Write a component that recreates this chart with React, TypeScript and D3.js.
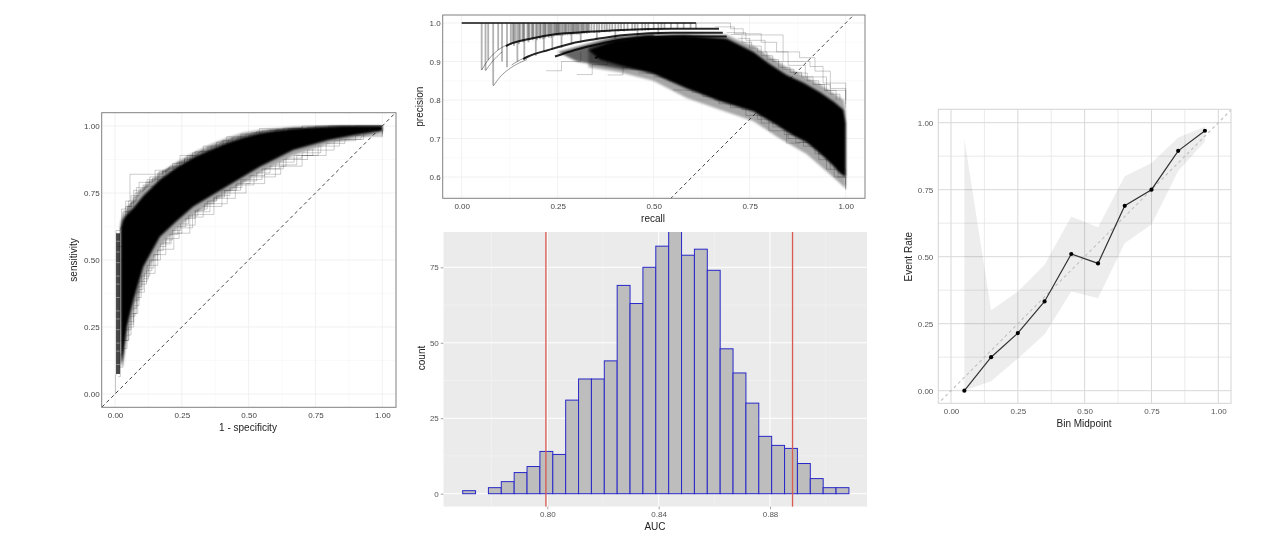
import React, { useEffect, useRef } from "react"
import * as d3 from "d3"

type Pt = [number, number]

// ---- ROC panel ----
const rocTicks = [0, 0.25, 0.5, 0.75, 1]
const rocCoreUpper: Pt[] = [[0.022, 0.25], [0.022, 0.62], [0.03, 0.65], [0.044, 0.67], [0.069, 0.695], [0.106, 0.74], [0.168, 0.8], [0.23, 0.845], [0.293, 0.882], [0.355, 0.91], [0.418, 0.937], [0.48, 0.957], [0.542, 0.973], [0.6, 0.982], [0.667, 0.99], [0.75, 0.995], [0.85, 1], [1, 1]]
const rocCoreLower: Pt[] = [[1, 0.982], [0.9, 0.966], [0.8, 0.948], [0.667, 0.91], [0.542, 0.848], [0.418, 0.774], [0.293, 0.7], [0.23, 0.645], [0.168, 0.587], [0.106, 0.475], [0.069, 0.35], [0.044, 0.25], [0.03, 0.14], [0.022, 0.1]]
const rocHaloUpper: Pt[] = [[0.02, 0.3], [0.02, 0.64], [0.03, 0.67], [0.044, 0.695], [0.069, 0.725], [0.106, 0.77], [0.168, 0.825], [0.23, 0.865], [0.293, 0.9], [0.355, 0.93], [0.418, 0.955], [0.48, 0.975], [0.542, 0.985], [0.667, 0.997], [0.8, 1], [1, 1]]
const rocHaloLower: Pt[] = [[1, 0.975], [0.9, 0.955], [0.8, 0.935], [0.667, 0.89], [0.542, 0.825], [0.418, 0.75], [0.293, 0.67], [0.23, 0.615], [0.168, 0.55], [0.106, 0.43], [0.069, 0.31], [0.044, 0.21], [0.03, 0.1]]
const rocStrip: Pt[] = [[0.004, 0.075], [0.004, 0.6], [0.019, 0.6], [0.019, 0.075]]
const rocLadder = [0.11, 0.16, 0.19, 0.24, 0.28, 0.31, 0.36, 0.41, 0.44, 0.49, 0.53, 0.57]
const rocFringe: Pt[][] = [
  [[0, 0], [0.002, 0.07], [0.004, 0.61], [0.02, 0.62], [0.025, 0.69], [0.04, 0.72], [0.056, 0.82], [0.15, 0.835], [0.2, 0.845], [0.243, 0.89], [0.33, 0.925], [0.418, 0.96], [0.54, 0.99], [0.7, 1], [1, 1]],
  [[0.01, 0.55], [0.03, 0.68], [0.06, 0.74], [0.09, 0.79], [0.13, 0.81], [0.19, 0.84], [0.26, 0.875], [0.3, 0.905], [0.38, 0.94], [0.47, 0.97], [0.6, 0.985], [0.75, 1], [1, 1]],
  [[0.02, 0.6], [0.04, 0.7], [0.07, 0.76], [0.11, 0.775], [0.16, 0.825], [0.22, 0.85], [0.28, 0.885], [0.35, 0.915], [0.44, 0.955], [0.52, 0.975], [0.65, 0.99], [0.8, 1], [1, 1]],
  [[0.03, 0.64], [0.05, 0.72], [0.08, 0.77], [0.12, 0.8], [0.18, 0.83], [0.24, 0.865], [0.31, 0.9], [0.4, 0.945], [0.5, 0.965], [0.58, 0.985], [0.72, 0.995], [0.9, 1], [1, 1]],
  [[0.035, 0.66], [0.047, 0.7], [0.06, 0.715], [0.075, 0.75], [0.095, 0.765], [0.115, 0.79], [0.14, 0.805], [0.165, 0.83], [0.195, 0.84], [0.215, 0.86], [0.25, 0.87], [0.27, 0.89], [0.305, 0.895], [0.325, 0.91], [0.36, 0.925], [0.39, 0.935], [0.425, 0.95], [0.46, 0.96], [0.49, 0.97], [0.53, 0.98], [0.57, 0.985], [0.63, 0.992], [0.7, 0.998]],
  [[0.04, 0.68], [0.055, 0.71], [0.068, 0.735], [0.085, 0.755], [0.105, 0.78], [0.128, 0.795], [0.15, 0.82], [0.178, 0.835], [0.205, 0.85], [0.232, 0.865], [0.26, 0.88], [0.29, 0.9], [0.318, 0.905], [0.345, 0.92], [0.375, 0.93], [0.405, 0.945], [0.435, 0.955], [0.475, 0.965], [0.51, 0.975], [0.55, 0.982], [0.61, 0.99]],
  [[0.012, 0.065], [0.02, 0.15], [0.03, 0.2], [0.05, 0.25], [0.07, 0.3], [0.085, 0.4], [0.1, 0.44], [0.13, 0.5], [0.17, 0.56], [0.21, 0.6], [0.25, 0.63], [0.3, 0.68], [0.355, 0.71], [0.42, 0.75], [0.49, 0.785], [0.56, 0.82], [0.62, 0.85], [0.7, 0.89], [0.79, 0.935], [0.86, 0.95], [0.92, 0.96], [1, 0.985]],
  [[0.015, 0.1], [0.03, 0.24], [0.06, 0.3], [0.08, 0.38], [0.11, 0.45], [0.15, 0.52], [0.19, 0.58], [0.24, 0.62], [0.29, 0.67], [0.37, 0.73], [0.45, 0.78], [0.52, 0.81], [0.6, 0.855], [0.68, 0.89], [0.76, 0.925], [0.84, 0.95], [0.93, 0.97], [1, 0.99]],
  [[0.02, 0.2], [0.04, 0.27], [0.07, 0.35], [0.09, 0.42], [0.12, 0.48], [0.16, 0.54], [0.22, 0.6], [0.28, 0.66], [0.33, 0.7], [0.4, 0.76], [0.47, 0.8], [0.55, 0.84], [0.63, 0.875], [0.72, 0.91], [0.82, 0.945], [0.9, 0.965], [1, 0.985]],
  [[0.03, 0.17], [0.045, 0.22], [0.06, 0.29], [0.075, 0.33], [0.09, 0.39], [0.105, 0.43], [0.125, 0.47], [0.145, 0.52], [0.165, 0.55], [0.19, 0.575], [0.215, 0.61], [0.245, 0.635], [0.275, 0.665], [0.31, 0.69], [0.345, 0.72], [0.38, 0.74], [0.43, 0.77], [0.475, 0.795], [0.53, 0.825], [0.58, 0.85], [0.64, 0.88], [0.7, 0.9], [0.77, 0.925]],
  [[0.035, 0.2], [0.052, 0.26], [0.068, 0.32], [0.082, 0.36], [0.098, 0.41], [0.118, 0.46], [0.138, 0.5], [0.158, 0.535], [0.18, 0.565], [0.205, 0.595], [0.235, 0.625], [0.265, 0.655], [0.3, 0.685], [0.335, 0.71], [0.37, 0.735], [0.41, 0.76], [0.455, 0.785], [0.505, 0.815], [0.56, 0.84], [0.615, 0.865], [0.67, 0.89], [0.74, 0.915]],
]

// ---- Precision-recall panel ----
const prXTicks = [0, 0.25, 0.5, 0.75, 1]
const prYTicks = [0.6, 0.7, 0.8, 0.9, 1]
const prCoreUpper: Pt[] = [[0.33, 0.93], [0.4, 0.955], [0.47, 0.965], [0.58, 0.968], [0.69, 0.96], [0.72, 0.945], [0.76, 0.925], [0.8, 0.895], [0.846, 0.865], [0.89, 0.845], [0.933, 0.82], [0.97, 0.795], [0.994, 0.775], [1, 0.74]]
const prCoreLower: Pt[] = [[1, 0.6], [0.985, 0.61], [0.967, 0.63], [0.935, 0.66], [0.898, 0.69], [0.86, 0.71], [0.82, 0.735], [0.76, 0.77], [0.673, 0.797], [0.586, 0.83], [0.499, 0.868], [0.412, 0.89], [0.36, 0.905]]
const prHaloUpper: Pt[] = [[0.33, 0.94], [0.5, 0.975], [0.6, 0.975], [0.69, 0.97], [0.72, 0.955], [0.76, 0.94], [0.846, 0.885], [0.933, 0.84], [0.995, 0.8], [1, 0.77]]
const prHaloLower: Pt[] = [[1, 0.57], [0.967, 0.6], [0.898, 0.66], [0.82, 0.705], [0.76, 0.745], [0.673, 0.775], [0.586, 0.805], [0.499, 0.85], [0.412, 0.872], [0.33, 0.885]]
const prWedge: Pt[] = [[0.25, 0.925], [0.4, 0.965], [0.5, 0.972], [0.5, 0.88], [0.42, 0.88], [0.36, 0.89], [0.3, 0.9]]
const prSpines: Pt[][] = [
  [[0.115, 0.94], [0.13, 0.947], [0.182, 0.96], [0.243, 0.971], [0.329, 0.977], [0.417, 0.982], [0.55, 0.985], [0.67, 0.985]],
  [[0.16, 0.906], [0.173, 0.913], [0.226, 0.93], [0.286, 0.947], [0.347, 0.958], [0.425, 0.969], [0.55, 0.975], [0.68, 0.975]],
  [[0.243, 0.913], [0.295, 0.93], [0.365, 0.947], [0.425, 0.958], [0.55, 0.965], [0.69, 0.965]],
  [[0.347, 0.909], [0.39, 0.925], [0.425, 0.938], [0.5, 0.95]],
]
const prFaintArcs: Pt[][] = [
  [[0.052, 0.878], [0.069, 0.904], [0.095, 0.93], [0.13, 0.947]],
  [[0.062, 0.876], [0.08, 0.9], [0.105, 0.925]],
  [[0.13, 0.891], [0.15, 0.903], [0.173, 0.913]],
  [[0.082, 0.836], [0.1, 0.86], [0.13, 0.885], [0.17, 0.905]],
]
const prFringe: Pt[][] = [
  [[0.22, 0.876], [0.26, 0.9], [0.31, 0.925]],
  [[0.3, 0.866], [0.34, 0.892], [0.38, 0.915]],
  [[0.38, 0.865], [0.42, 0.885], [0.47, 0.915]],
  [[0.46, 0.87], [0.51, 0.885], [0.57, 0.89]],
  [[0.61, 1], [0.7, 0.985], [0.733, 0.969], [0.837, 0.948], [0.837, 0.9], [0.907, 0.887], [0.941, 0.844], [1, 0.8]],
  [[0.66, 0.99], [0.71, 0.972], [0.78, 0.95], [0.82, 0.925], [0.88, 0.91], [0.92, 0.875], [0.96, 0.83], [1, 0.79]],
  [[0.69, 0.975], [0.74, 0.955], [0.79, 0.925], [0.85, 0.89], [0.895, 0.86], [0.95, 0.825], [1, 0.78]],
  [[0.7, 0.97], [0.73, 0.95], [0.755, 0.94], [0.78, 0.915], [0.81, 0.9], [0.835, 0.88], [0.865, 0.87], [0.9, 0.85], [0.93, 0.84], [0.96, 0.815], [0.985, 0.8]],
  [[0.72, 0.96], [0.75, 0.935], [0.77, 0.925], [0.795, 0.905], [0.825, 0.885], [0.855, 0.872], [0.885, 0.86], [0.915, 0.84], [0.945, 0.825], [0.975, 0.8]],
  [[0.55, 0.826], [0.585, 0.825], [0.628, 0.809], [0.67, 0.79], [0.72, 0.79], [0.78, 0.74], [0.846, 0.688], [0.88, 0.69], [0.93, 0.66], [0.97, 0.6], [1, 0.566]],
  [[0.5, 0.86], [0.6, 0.82], [0.66, 0.8], [0.74, 0.76], [0.8, 0.72], [0.87, 0.69], [0.95, 0.62], [1, 0.57]],
  [[0.44, 0.88], [0.52, 0.86], [0.61, 0.83], [0.7, 0.78], [0.77, 0.75], [0.84, 0.71], [0.92, 0.66], [0.98, 0.6], [1, 0.58]],
  [[0.48, 0.87], [0.54, 0.85], [0.58, 0.84], [0.63, 0.815], [0.68, 0.8], [0.73, 0.775], [0.775, 0.76], [0.81, 0.73], [0.85, 0.7], [0.89, 0.68], [0.93, 0.645], [0.96, 0.62]],
]
// each entry: recall where a curve first leaves precision 1, and how far it drops
const prDrops: Pt[] = [
  [0.052, 0.878], [0.062, 0.877], [0.069, 0.904], [0.082, 0.838], [0.095, 0.93], [0.105, 0.9], [0.118, 0.885], [0.128, 0.944], [0.133, 0.948], [0.14, 0.95], [0.145, 0.9], [0.152, 0.952],
  [0.158, 0.952], [0.163, 0.905], [0.171, 0.955], [0.176, 0.955], [0.182, 0.96], [0.187, 0.96], [0.193, 0.915], [0.2, 0.962], [0.206, 0.962], [0.214, 0.925], [0.219, 0.965], [0.224, 0.965],
  [0.23, 0.966], [0.236, 0.93], [0.243, 0.97], [0.248, 0.97], [0.253, 0.97], [0.26, 0.935], [0.267, 0.97], [0.272, 0.972], [0.279, 0.972], [0.286, 0.945], [0.291, 0.973], [0.297, 0.973],
  [0.303, 0.973], [0.31, 0.95], [0.316, 0.975], [0.323, 0.975], [0.329, 0.977], [0.338, 0.977], [0.352, 0.955], [0.365, 0.977], [0.378, 0.978], [0.392, 0.98], [0.4, 0.96], [0.415, 0.98],
  [0.432, 0.98], [0.444, 0.98], [0.458, 0.965], [0.47, 0.98], [0.486, 0.98], [0.5, 0.985], [0.512, 0.97], [0.528, 0.985], [0.545, 0.985], [0.562, 0.985], [0.578, 0.985], [0.596, 0.985], [0.61, 0.985],
  [0.136, 0.94], [0.149, 0.945], [0.161, 0.95], [0.174, 0.95], [0.185, 0.955], [0.196, 0.955], [0.204, 0.958], [0.211, 0.958], [0.217, 0.96], [0.227, 0.962], [0.233, 0.962], [0.24, 0.965],
  [0.246, 0.966], [0.251, 0.966], [0.256, 0.966], [0.263, 0.966], [0.27, 0.968], [0.276, 0.968], [0.283, 0.968], [0.289, 0.97], [0.294, 0.97], [0.3, 0.97], [0.306, 0.97], [0.313, 0.972],
  [0.319, 0.972], [0.326, 0.972], [0.332, 0.974], [0.345, 0.974], [0.358, 0.974], [0.372, 0.976], [0.385, 0.976], [0.408, 0.978], [0.423, 0.978], [0.451, 0.98], [0.478, 0.98], [0.52, 0.982],
]

// ---- AUC histogram ----
const aucXTicks = [0.8, 0.84, 0.88]
const aucYTicks = [0, 25, 50, 75]
const aucBinStart = 0.7696
const aucBinWidth = 0.004625
const aucCounts = [1, 0, 2, 4, 7, 9, 14, 13, 31, 38, 38, 44, 69, 63, 75, 82, 90, 79, 81, 74, 48, 40, 30, 19, 16, 15, 10, 5, 2, 2]
const aucLimits = [0.7995, 0.8881]

// ---- Calibration ----
const calTicks = [0, 0.25, 0.5, 0.75, 1]
const calMid = [0.05, 0.15, 0.25, 0.35, 0.45, 0.55, 0.65, 0.75, 0.85, 0.95]
const calRate = [0, 0.125, 0.215, 0.333, 0.51, 0.475, 0.69, 0.75, 0.895, 0.97]
const calUpper = [0.94, 0.3, 0.37, 0.47, 0.65, 0.61, 0.8, 0.85, 0.945, 0.985]
const calLower = [0, 0.035, 0.12, 0.21, 0.37, 0.345, 0.55, 0.62, 0.82, 0.93]

const FONT = "'Liberation Sans', Arial, sans-serif"

type G = d3.Selection<SVGGElement, unknown, null, undefined>

function midpoints(t: number[]) {
  return d3.pairs(t).map(([a, b]) => (a + b) / 2)
}

function makePanel(root: G, id: string, box: { l: number; r: number; t: number; b: number }) {
  root.append("clipPath").attr("id", id)
    .append("rect")
    .attr("x", box.l).attr("y", box.t)
    .attr("width", box.r - box.l).attr("height", box.b - box.t)
  const g = root.append("g")
  const clipped = g.append("g").attr("clip-path", `url(#${id})`)
  return { g, clipped }
}

function grid(g: G, x: any, y: any, xs: number[], ys: number[], box: any, color: string, w: number) {
  g.selectAll(null).data(xs).enter().append("line")
    .attr("x1", (d: number) => x(d)).attr("x2", (d: number) => x(d))
    .attr("y1", box.t).attr("y2", box.b)
    .attr("stroke", color).attr("stroke-width", w)
  g.selectAll(null).data(ys).enter().append("line")
    .attr("y1", (d: number) => y(d)).attr("y2", (d: number) => y(d))
    .attr("x1", box.l).attr("x2", box.r)
    .attr("stroke", color).attr("stroke-width", w)
}

function axes(g: G, x: any, y: any, xt: number[], yt: number[], box: any, o: any) {
  const ax = g.append("g").attr("transform", `translate(0,${box.b})`)
    .call(d3.axisBottom(x).tickValues(xt).tickFormat(o.xf).tickSize(o.tick).tickPadding(o.xpad))
  const ay = g.append("g").attr("transform", `translate(${box.l},0)`)
    .call(d3.axisLeft(y).tickValues(yt).tickFormat(o.yf).tickSize(o.tick).tickPadding(o.ypad))
  for (const a of [ax, ay]) {
    a.select(".domain").remove()
    a.selectAll("line").attr("stroke", "#777").attr("stroke-width", 0.7)
    a.selectAll("text").attr("fill", o.tickColor).style("font-size", "8px").style("font-family", FONT)
  }
}

function titles(g: G, xTitle: string, yTitle: string, xp: Pt, yp: Pt) {
  g.append("text").attr("x", xp[0]).attr("y", xp[1]).attr("text-anchor", "middle")
    .attr("dominant-baseline", "middle").attr("fill", "#222")
    .style("font-size", "10px").style("font-family", FONT).text(xTitle)
  g.append("text").attr("text-anchor", "middle").attr("dominant-baseline", "middle")
    .attr("fill", "#222").attr("transform", `translate(${yp[0]},${yp[1]}) rotate(-90)`)
    .style("font-size", "10px").style("font-family", FONT).text(yTitle)
}

function frame(g: G, box: any, color: string) {
  g.append("rect").attr("x", box.l).attr("y", box.t)
    .attr("width", box.r - box.l).attr("height", box.b - box.t)
    .attr("fill", "none").attr("stroke", color).attr("stroke-width", 1)
}

export default function App() {
  const ref = useRef<SVGSVGElement>(null)

  useEffect(() => {
    const svg = d3.select(ref.current!)
    svg.selectAll("*").remove()

    svg.append("filter").attr("id", "edge")
      .attr("filterUnits", "userSpaceOnUse")
      .attr("x", 0).attr("y", 0).attr("width", 1271).attr("height", 541)
      .append("feGaussianBlur").attr("stdDeviation", 1.1)

    const root = svg.append("g") as unknown as G

    // ROC
    {
      const box = { l: 101.7, r: 396, t: 112.7, b: 407.3 }
      const x = d3.scaleLinear().domain([0, 1]).range([115, 382.3])
      const y = d3.scaleLinear().domain([0, 1]).range([394, 126])
      const { g, clipped } = makePanel(root, "clip-roc", box)
      const mx = (p: any, c: any) => d3.line<Pt>().x((d) => x(d[0])).y((d) => y(d[1])).curve(c)(p)
      grid(clipped, x, y, midpoints(rocTicks), midpoints(rocTicks), box, "#f4f4f4", 0.5)
      grid(clipped, x, y, rocTicks, rocTicks, box, "#ededed", 0.8)
      clipped.append("line")
        .attr("x1", x(-0.1)).attr("y1", y(-0.1)).attr("x2", x(1.1)).attr("y2", y(1.1))
        .attr("stroke", "#444").attr("stroke-width", 1).attr("stroke-dasharray", "3.5 3")
      clipped.selectAll(null).data(rocFringe).enter().append("path")
        .attr("d", (d) => mx(d, d3.curveStepAfter))
        .attr("fill", "none").attr("stroke", "#000").attr("stroke-opacity", 0.25).attr("stroke-width", 0.8)
      clipped.append("path").attr("d", mx(rocHaloUpper.concat(rocHaloLower), d3.curveLinearClosed)!)
        .attr("fill", "#000").attr("fill-opacity", 0.35).attr("filter", "url(#edge)")
      clipped.append("path").attr("d", mx(rocStrip, d3.curveLinearClosed)!)
        .attr("fill", "#000").attr("fill-opacity", 0.72)
      clipped.selectAll(null).data(rocLadder).enter().append("line")
        .attr("x1", x(0.005)).attr("x2", x(0.018))
        .attr("y1", (d) => y(d)).attr("y2", (d) => y(d))
        .attr("stroke", "#fff").attr("stroke-opacity", 0.4).attr("stroke-width", 1)
      clipped.append("path").attr("d", mx(rocCoreUpper.concat(rocCoreLower), d3.curveLinearClosed)!)
        .attr("fill", "#000").attr("filter", "url(#edge)")
      frame(g, box, "#808080")
      axes(g, x, y, rocTicks, rocTicks, box, { xf: d3.format(".2f"), yf: d3.format(".2f"), tick: 0, xpad: 5, ypad: 2, tickColor: "#444" })
      titles(g, "1 - specificity", "sensitivity", [248, 428], [74, 260])
    }

    // Precision-recall
    {
      const box = { l: 442.7, r: 865, t: 15, b: 198.3 }
      const x = d3.scaleLinear().domain([0, 1]).range([461.7, 845.7])
      const y = d3.scaleLinear().domain([0.6, 1]).range([177, 23])
      const { g, clipped } = makePanel(root, "clip-pr", box)
      const mx = (p: any, c: any) => d3.line<Pt>().x((d) => x(d[0])).y((d) => y(d[1])).curve(c)(p)
      grid(clipped, x, y, midpoints(prXTicks), midpoints(prYTicks).concat([0.55]), box, "#f4f4f4", 0.5)
      grid(clipped, x, y, prXTicks, prYTicks, box, "#ededed", 0.8)
      clipped.append("line")
        .attr("x1", x(0.4)).attr("y1", y(0.4)).attr("x2", x(1.1)).attr("y2", y(1.1))
        .attr("stroke", "#444").attr("stroke-width", 1).attr("stroke-dasharray", "3.5 3")
      clipped.selectAll(null).data(prDrops).enter().append("line")
        .attr("x1", (d) => x(d[0])).attr("x2", (d) => x(d[0]))
        .attr("y1", y(1)).attr("y2", (d) => y(d[1]))
        .attr("stroke", "#000").attr("stroke-opacity", 0.3).attr("stroke-width", 1.8)
      clipped.append("line")
        .attr("x1", x(0)).attr("x2", x(0.61)).attr("y1", y(1)).attr("y2", y(1))
        .attr("stroke", "#111").attr("stroke-width", 1.3)
      clipped.selectAll(null).data(prFringe).enter().append("path")
        .attr("d", (d) => mx(d, d3.curveStepAfter))
        .attr("fill", "none").attr("stroke", "#000").attr("stroke-opacity", 0.25).attr("stroke-width", 0.8)
      clipped.selectAll(null).data(prFaintArcs).enter().append("path")
        .attr("d", (d) => mx(d, d3.curveMonotoneX))
        .attr("fill", "none").attr("stroke", "#000").attr("stroke-opacity", 0.4).attr("stroke-width", 1)
      clipped.append("path").attr("d", mx(prWedge, d3.curveLinearClosed)!)
        .attr("fill", "#000").attr("fill-opacity", 0.6).attr("filter", "url(#edge)")
      clipped.selectAll(null).data(prSpines).enter().append("path")
        .attr("d", (d) => mx(d, d3.curveMonotoneX))
        .attr("fill", "none").attr("stroke", "#000").attr("stroke-opacity", 0.85).attr("stroke-width", 2)
      clipped.append("path").attr("d", mx(prHaloUpper.concat(prHaloLower), d3.curveLinearClosed)!)
        .attr("fill", "#000").attr("fill-opacity", 0.35).attr("filter", "url(#edge)")
      clipped.append("path").attr("d", mx(prCoreUpper.concat(prCoreLower), d3.curveLinearClosed)!)
        .attr("fill", "#000").attr("filter", "url(#edge)")
      frame(g, box, "#808080")
      axes(g, x, y, prXTicks, prYTicks, box, { xf: d3.format(".2f"), yf: d3.format(".1f"), tick: 0, xpad: 5, ypad: 2, tickColor: "#444" })
      titles(g, "recall", "precision", [653, 219.3], [420, 106.7])
    }

    // AUC histogram
    {
      const box = { l: 443.3, r: 867, t: 232, b: 506.7 }
      const x = d3.scaleLinear().domain([0.8, 0.88]).range([547.3, 770])
      const y = d3.scaleLinear().domain([0, 75]).range([493.7, 267.3])
      const { g, clipped } = makePanel(root, "clip-auc", box)
      clipped.append("rect").attr("x", box.l).attr("y", box.t)
        .attr("width", box.r - box.l).attr("height", box.b - box.t).attr("fill", "#ebebeb")
      const minorX = [0.78, 0.82, 0.86, 0.9]
      grid(clipped, x, y, minorX, midpoints(aucYTicks), box, "#f6f6f6", 0.5)
      grid(clipped, x, y, aucXTicks, aucYTicks, box, "#ffffff", 1)
      clipped.selectAll(null).data(aucCounts).enter().append("rect")
        .attr("x", (_, i) => x(aucBinStart + i * aucBinWidth))
        .attr("width", x(aucBinWidth) - x(0))
        .attr("y", (d) => y(d))
        .attr("height", (d) => y(0) - y(d))
        .attr("fill", "#bdbdbd").attr("stroke", "#2828c8").attr("stroke-width", 1)
      clipped.selectAll(null).data(aucLimits).enter().append("line")
        .attr("x1", (d) => x(d)).attr("x2", (d) => x(d))
        .attr("y1", box.t).attr("y2", box.b)
        .attr("stroke", "#d85a50").attr("stroke-width", 1.3)
      axes(g, x, y, aucXTicks, aucYTicks, box, { xf: d3.format(".2f"), yf: d3.format("d"), tick: 2.5, xpad: 2.5, ypad: 2, tickColor: "#555" })
      titles(g, "AUC", "count", [655, 527.3], [422.7, 358])
    }

    // Calibration
    {
      const box = { l: 938.3, r: 1231, t: 109.3, b: 403.3 }
      const x = d3.scaleLinear().domain([0, 1]).range([951, 1218.3])
      const y = d3.scaleLinear().domain([0, 1]).range([390.7, 122.7])
      const { g, clipped } = makePanel(root, "clip-cal", box)
      const points = calMid.map((m, i) => ({ m, r: calRate[i], u: calUpper[i], l: calLower[i] }))
      grid(clipped, x, y, midpoints(calTicks), midpoints(calTicks), box, "#e4e4e4", 0.8)
      grid(clipped, x, y, calTicks, calTicks, box, "#d8d8d8", 1)
      clipped.append("path")
        .attr("d", d3.area<any>().x((d) => x(d.m)).y0((d) => y(d.l)).y1((d) => y(d.u))(points)!)
        .attr("fill", "#000").attr("fill-opacity", 0.07)
      clipped.append("line")
        .attr("x1", x(-0.1)).attr("y1", y(-0.1)).attr("x2", x(1.1)).attr("y2", y(1.1))
        .attr("stroke", "#c0c0c0").attr("stroke-width", 1.1).attr("stroke-dasharray", "3 3")
      clipped.append("path")
        .attr("d", d3.line<any>().x((d) => x(d.m)).y((d) => y(d.r))(points)!)
        .attr("fill", "none").attr("stroke", "#333").attr("stroke-width", 1.2)
      clipped.selectAll(null).data(points).enter().append("circle")
        .attr("cx", (d) => x(d.m)).attr("cy", (d) => y(d.r)).attr("r", 2.1).attr("fill", "#000")
      frame(g, box, "#d4d4d4")
      axes(g, x, y, calTicks, calTicks, box, { xf: d3.format(".2f"), yf: d3.format(".2f"), tick: 0, xpad: 5, ypad: 5, tickColor: "#555" })
      titles(g, "Bin Midpoint", "Event Rate", [1084, 424], [909, 256.7])
    }
  }, [])

  return (
    <svg
      ref={ref}
      width={1271}
      height={541}
      style={{ position: "absolute", left: 0, top: 0, background: "#fff", filter: "blur(0.45px)" }}
    />
  )
}
